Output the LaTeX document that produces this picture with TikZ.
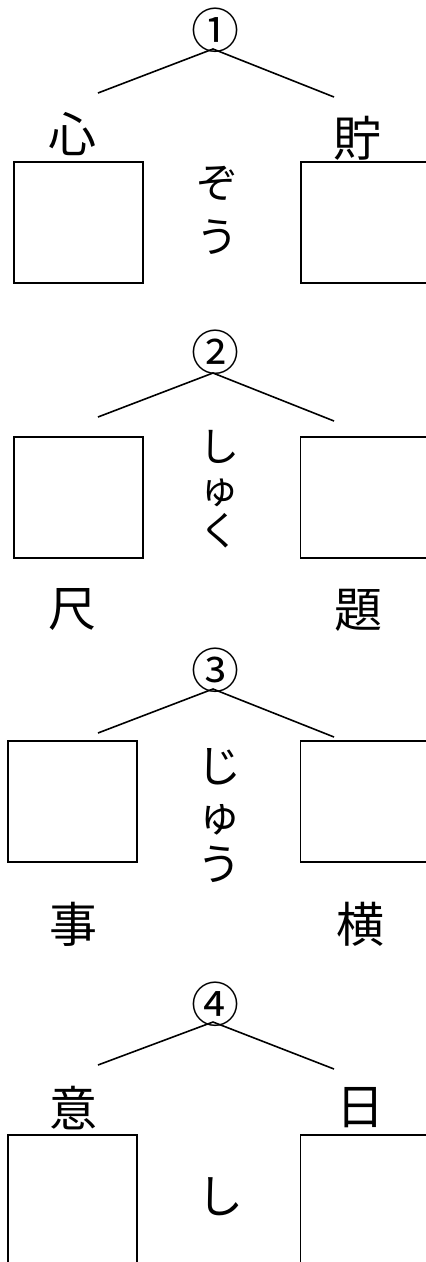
\documentclass[tikz,border=0pt]{standalone}
\usepackage{fontspec}
\newfontfamily\jp{Noto Sans CJK JP}
\newcommand\noskiplimit{\lineskiplimit=-100pt\relax}
\begin{document}
\begin{tikzpicture}[x=1pt,y=-1pt,
  ans/.style={draw, line width=1.6pt, minimum width=129pt, minimum height=121pt, inner sep=0pt},
  branch/.style={line width=1.6pt},
  kanji/.style={font=\jp\fontsize{48}{48}\selectfont, inner sep=0pt},
  num/.style={font=\jp\fontsize{48}{48}\selectfont, inner sep=0pt},
  yomi/.style={align=center, inner sep=0pt}]
\useasboundingbox (0,0) rectangle (426,1262);
% ---------- 1 ----------
\node[num] (n1) at (215,30) {①};
\coordinate (a1) at (213,49);
\coordinate (l1) at (98,93);
\coordinate (r1) at (334,97);
\draw[branch] (l1) -- (a1) -- (r1);
\node[kanji] (k1l) at (72,134) {心};
\node[kanji] (k1r) at (357,138) {貯};
\node[ans] (b1l) at (78.5,222.5) {};
\node[ans] (b1r) at (365.5,222.5) {};
\node[yomi, font=\jp\fontsize{42}{54}\selectfont\noskiplimit] (y1) at (217,210) {ぞ\\う};
% ---------- 2 ----------
\node[num] (n2) at (215,352) {②};
\coordinate (a2) at (213,373);
\coordinate (l2) at (98,417);
\coordinate (r2) at (334,421);
\draw[branch] (l2) -- (a2) -- (r2);
\node[ans] (b2l) at (78.5,497.5) {};
\node[ans] (b2r) at (365,497.5) {};
\node[yomi, font=\jp\fontsize{40}{42}\selectfont\noskiplimit] (y2) at (219,489) {し\\ゅ\\く};
\node[kanji] (k2l) at (72,609) {尺};
\node[kanji] (k2r) at (358,610) {題};
% ---------- 3 ----------
\node[num] (n3) at (215,670) {③};
\coordinate (a3) at (213,689);
\coordinate (l3) at (98,733);
\coordinate (r3) at (334,737);
\draw[branch] (l3) -- (a3) -- (r3);
\node[ans] (b3l) at (72.5,801.5) {};
\node[ans] (b3r) at (365,801.5) {};
\node[yomi, font=\jp\fontsize{44}{49}\selectfont\noskiplimit] (y3) at (219,816) {じ\\ゅ\\う};
\node[kanji] (k3l) at (73,924) {事};
\node[kanji] (k3r) at (360,924) {横};
% ---------- 4 ----------
\node[num] (n4) at (215,1004) {④};
\coordinate (a4) at (213,1022);
\coordinate (l4) at (98,1065);
\coordinate (r4) at (334,1069);
\draw[branch] (l4) -- (a4) -- (r4);
\node[kanji] (k4l) at (73,1108) {意};
\node[kanji] (k4r) at (360,1108) {日};
\node[ans, minimum height=140pt] (b4l) at (72.5,1205) {};
\node[ans, minimum height=140pt] (b4r) at (365,1205) {};
\node[font=\jp\fontsize{46}{46}\selectfont, inner sep=0pt] (y4) at (220,1197) {し};
\end{tikzpicture}
\end{document}
